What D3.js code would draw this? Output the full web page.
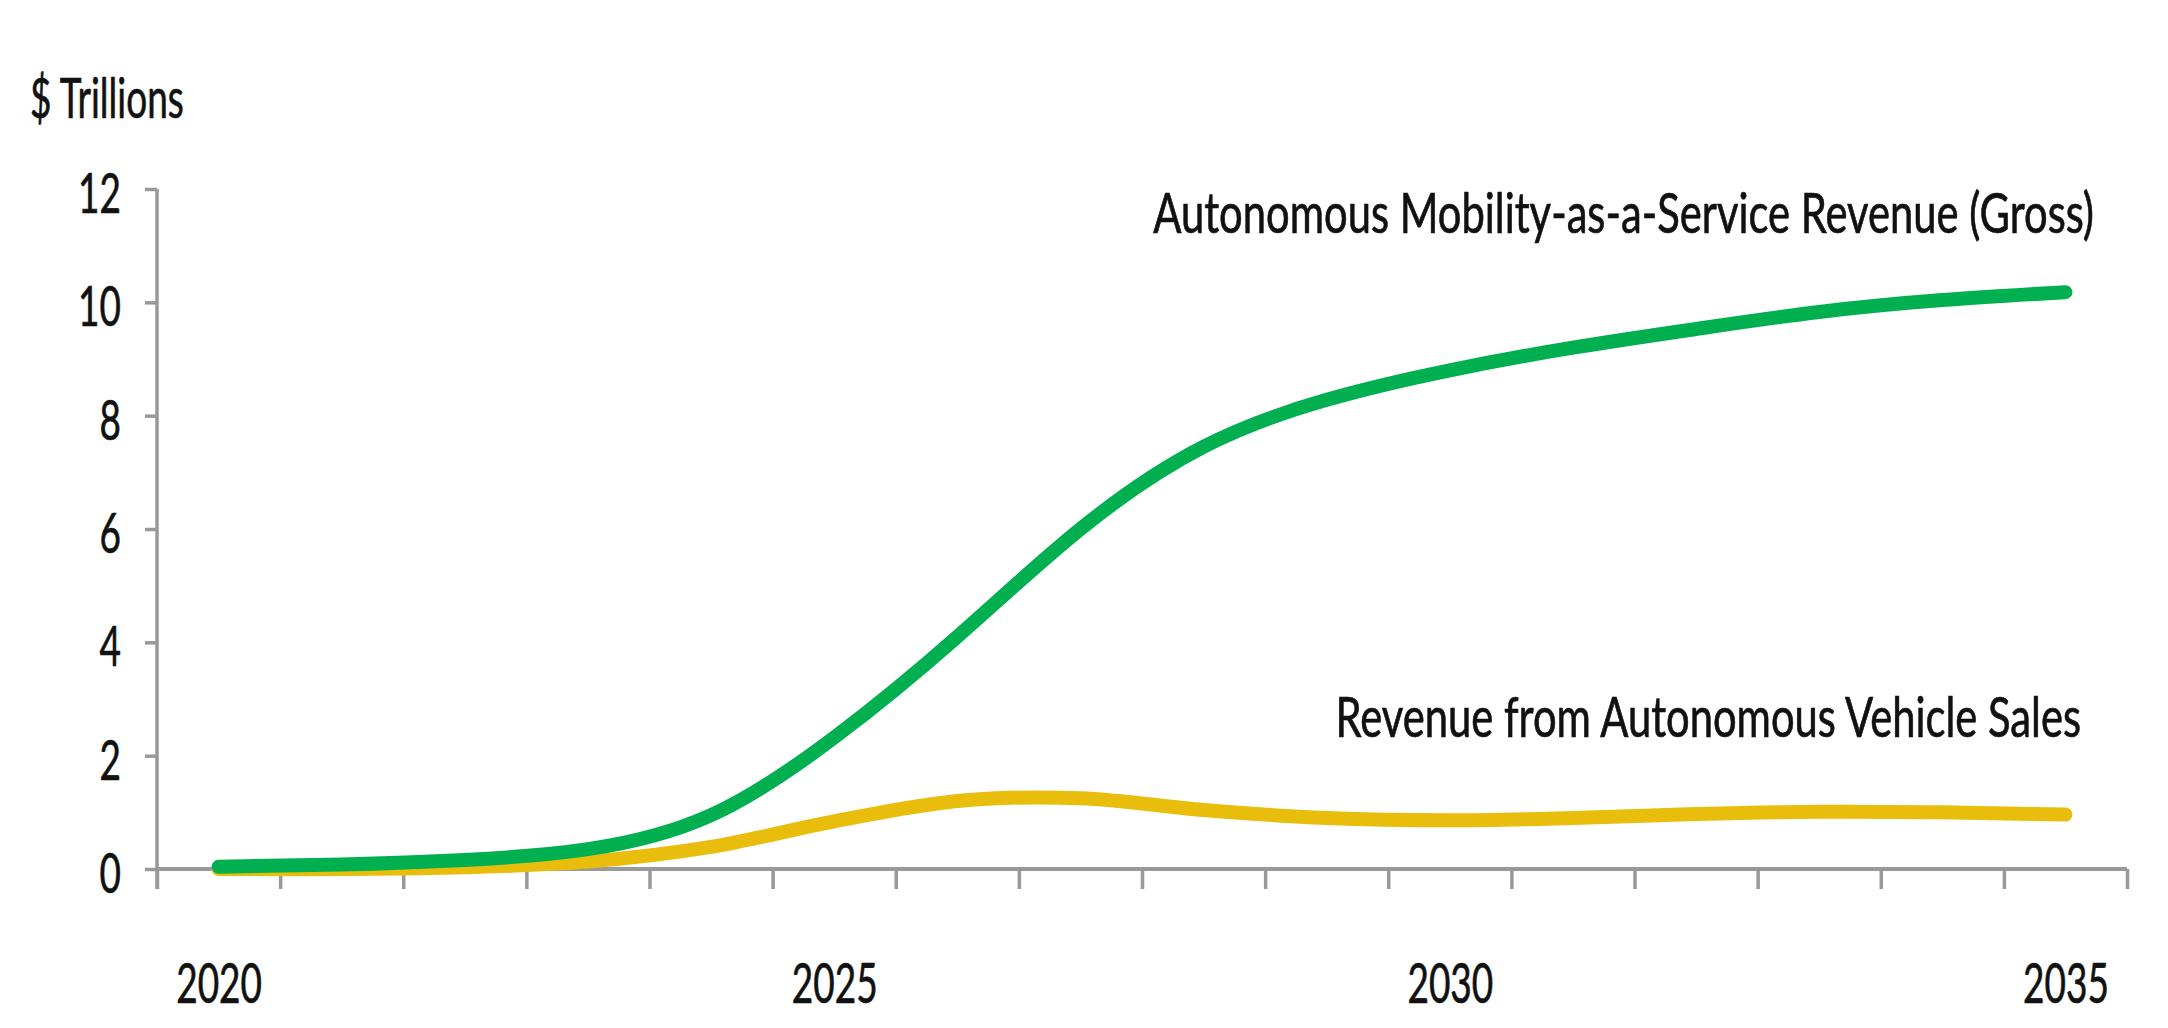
<!DOCTYPE html>
<html>
<head>
<meta charset="utf-8">
<script src="https://cdn.jsdelivr.net/npm/d3@7"></script>
<style>
  body { margin: 0; background: #fff; }
  svg text { font-family: Lato, "DejaVu Sans", sans-serif; fill: #111; stroke: #111; stroke-width: 0.7px; }
</style>
</head>
<body>
<svg id="chart" width="2168" height="1028"></svg>
<script>
// chart data
var years = [2020, 2021, 2022, 2023, 2024, 2025, 2026, 2027, 2028, 2029, 2030, 2031, 2032, 2033, 2034, 2035];
var maasRevenue = [0.04, 0.08, 0.16, 0.35, 0.95, 2.32, 4.1, 6.0, 7.45, 8.28, 8.8, 9.2, 9.53, 9.83, 10.04, 10.18];
var avSales = [0, 0, 0.03, 0.13, 0.39, 0.84, 1.2, 1.25, 1.04, 0.9, 0.86, 0.9, 0.97, 1.01, 1.0, 0.96];
var yTicks = [0, 2, 4, 6, 8, 10, 12];
var xLabels = [2020, 2025, 2030, 2035];
var seriesNames = ["Autonomous Mobility-as-a-Service Revenue (Gross)", "Revenue from Autonomous Vehicle Sales"];
var unitLabel = "$ Trillions";

var svg = d3.select("#chart");
var axisColor = "#999";

// squeeze text horizontally, the source font is a narrow one
function condense(sel, f) {
  sel.each(function() {
    var w = this.getComputedTextLength();
    d3.select(this).attr("textLength", w * f).attr("lengthAdjust", "spacingAndGlyphs");
  });
}

var x = d3.scaleLinear().domain([2019.5, 2035.5]).range([157, 2127]);
var y = d3.scaleLinear().domain([0, 12]).range([869, 189]);

// y axis
var yAxis = svg.append("g")
    .attr("transform", "translate(" + x.range()[0] + ",0)")
    .call(d3.axisLeft(y).tickValues(yTicks).tickSize(12).tickPadding(24));
yAxis.select(".domain").remove();
yAxis.selectAll("line").attr("stroke", axisColor).attr("stroke-width", 3.5);
yAxis.selectAll("text")
    .style("font-size", "56px")
    .attr("dy", "0.42em");
svg.append("line")
    .attr("x1", x.range()[0]).attr("x2", x.range()[0])
    .attr("y1", y(12)).attr("y2", y(0) + 20)
    .attr("stroke", axisColor).attr("stroke-width", 3.5);

// x axis: ticks at the year edges, labels in the middle of the year
var xTickAxis = svg.append("g")
    .attr("transform", "translate(0," + y(0) + ")")
    .call(d3.axisBottom(x).tickValues(d3.range(2019.5, 2036, 1)).tickSize(20).tickFormat(""));
xTickAxis.select(".domain").remove();
xTickAxis.selectAll("line").attr("stroke", axisColor).attr("stroke-width", 3.5);
svg.append("line")
    .attr("x1", x.range()[0]).attr("x2", x.range()[1])
    .attr("y1", y(0)).attr("y2", y(0))
    .attr("stroke", axisColor).attr("stroke-width", 4);

var xLabelAxis = svg.append("g")
    .attr("transform", "translate(0," + y(0) + ")")
    .call(d3.axisBottom(x).tickValues(xLabels).tickSize(0).tickPadding(134).tickFormat(d3.format("d")));
xLabelAxis.select(".domain").remove();
xLabelAxis.selectAll("text").style("font-size", "56px").attr("dy", "0");

// lines
function lineFor(curve) {
  return d3.line()
    .x(function(d, i) { return x(years[i]); })
    .y(function(d) { return y(d); })
    .curve(curve);
}

svg.append("path")
    .attr("d", lineFor(d3.curveCatmullRom.alpha(0.5))(avSales))
    .attr("fill", "none")
    .attr("stroke", "#E9BD0B")
    .attr("stroke-width", 14)
    .attr("stroke-linecap", "round");

svg.append("path")
    .attr("d", lineFor(d3.curveNatural)(maasRevenue))
    .attr("fill", "none")
    .attr("stroke", "#00B050")
    .attr("stroke-width", 14)
    .attr("stroke-linecap", "round");

// labels
svg.append("text")
    .attr("class", "unit")
    .attr("x", 30).attr("y", 118)
    .style("font-size", "56px")
    .text(unitLabel);

svg.append("text")
    .attr("class", "series-label")
    .attr("x", 2094).attr("y", 233)
    .attr("text-anchor", "end")
    .style("font-size", "56px")
    .text(seriesNames[0]);

svg.append("text")
    .attr("class", "series-label")
    .attr("x", 2081).attr("y", 737)
    .attr("text-anchor", "end")
    .style("font-size", "56px")
    .text(seriesNames[1]);

condense(svg.selectAll("g text"), 0.66);
condense(svg.selectAll("text.unit"), 0.66);
condense(svg.selectAll("text.series-label"), 0.745);
</script>
</body>
</html>
